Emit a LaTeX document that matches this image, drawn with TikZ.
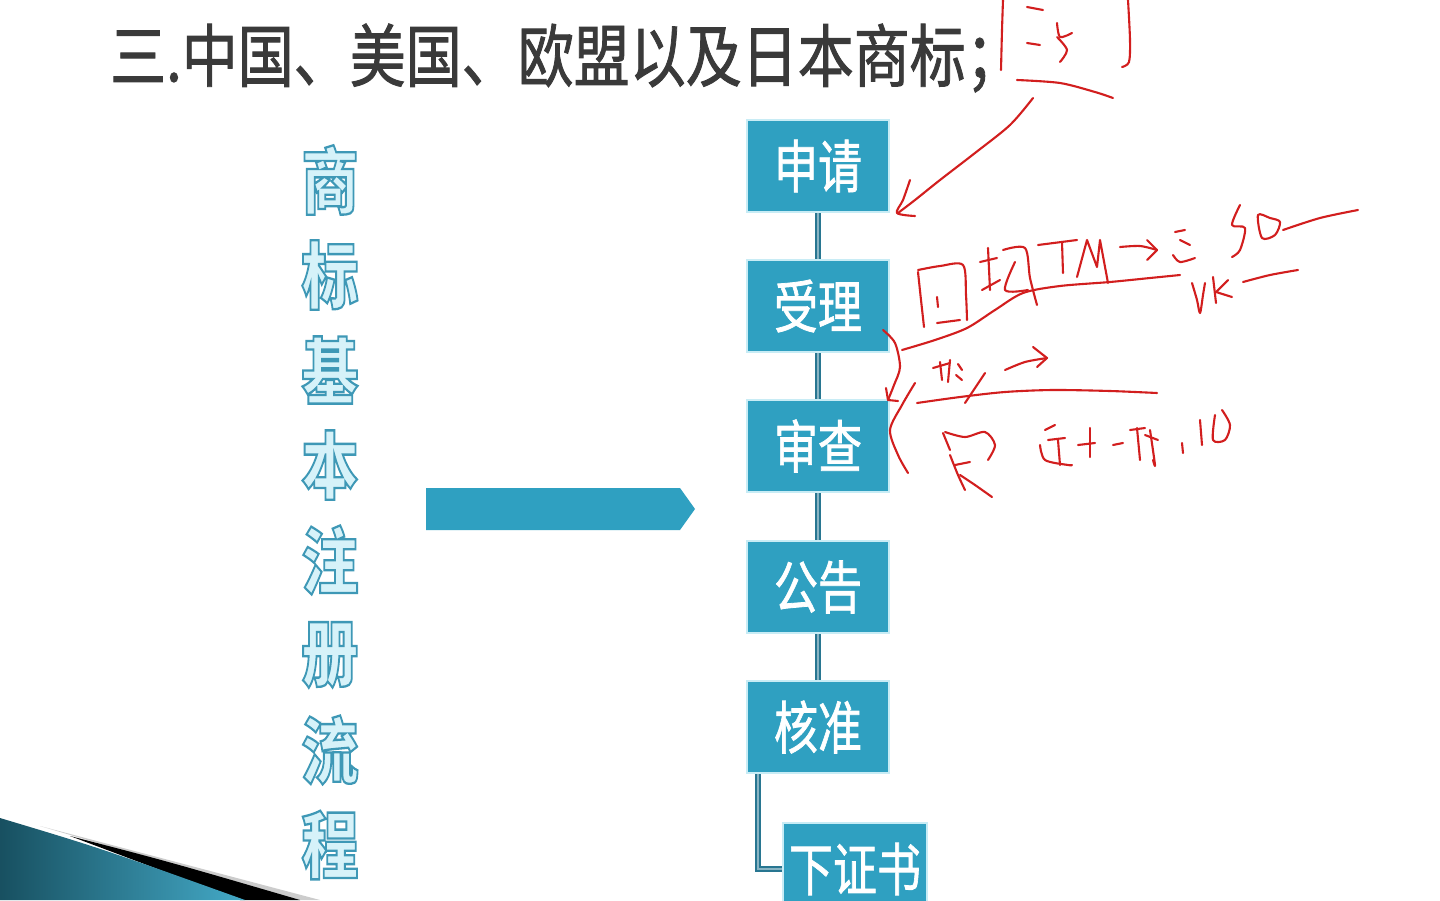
\documentclass[tikz,border=0pt]{standalone}
\usepackage{graphicx}
\usepackage{fontspec}
\setmainfont{Noto Sans CJK SC}
\newfontfamily\cjk{Noto Sans CJK SC}
\newfontfamily\cjkmed[FakeBold=1.4]{Noto Sans CJK SC}
\definecolor{boxfill}{RGB}{47,160,193}
\definecolor{boxedge}{RGB}{200,236,245}
\definecolor{linkc}{RGB}{40,118,145}
\definecolor{titlec}{RGB}{58,58,58}
\definecolor{vfill}{RGB}{214,242,249}
\definecolor{ink}{RGB}{210,30,30}
\newcommand{\tall}[2][1.3]{\scalebox{1}[#1]{#2}}
\newcommand{\outlinechar}[1]{\tall[1.28]{\color{vfill}\special{pdf:code q 2 Tr 1.8 w 0.243 0.596 0.714 RG}#1\special{pdf:code Q}}}
\tikzset{
  stepbox/.style={draw=boxedge, line width=2.2pt, fill=boxfill, minimum width=142pt, minimum height=92pt, inner sep=0pt,
     text=white, font=\cjkmed\fontsize{44}{48}\selectfont},
  link/.style={draw=linkc, line width=1.8pt, double=linkc!55!white, double distance=2pt},
  vchar/.style={font=\cjk\bfseries\fontsize{57}{57}\selectfont, inner sep=0pt},
  inkline/.style={draw=ink, line width=2.1pt, line cap=round, line join=round},
}
\begin{document}
\begin{tikzpicture}[x=1pt,y=-1pt]
\useasboundingbox (0,0) rectangle (1440,900);
\fill[white] (0,0) rectangle (1440,900);
% bottom-left decoration
\fill[black!20!white] (40,826) -- (320,900) -- (290,900) -- cycle;
\fill[black] (70,836) .. controls (170,862) .. (300,900) -- (240,900) -- cycle;
\shade[left color=boxfill!50!black, right color=boxfill!90!white] (0,818) .. controls (100,848) .. (245,900) -- (0,900) -- cycle;
% title
\node[anchor=west, font=\cjkmed\fontsize{56}{60}\selectfont, text=titlec, inner sep=0pt] (title) at (110,58) {\tall[1.22]{三.中国、美国、欧盟以及日本商标；}};
% vertical text
\foreach \c [count=\i] in {商,标,基,本,注,册,流,程}
  \node[vchar] (v\i) at (330,85+95*\i) {\outlinechar{\c}};
% big arrow
\fill[boxfill] (426,488) -- (680,488) -- (695,509) -- (680,530) -- (426,530) -- cycle;
% flow boxes
\node[stepbox] (sq) at (818,166) {\tall{申请}};
\node[stepbox] (sl) at (818,306) {\tall{受理}};
\node[stepbox] (sc) at (818,446) {\tall{审查}};
\node[stepbox] (gg) at (818,587) {\tall{公告}};
\node[stepbox] (hz) at (818,727) {\tall{核准}};
\node[stepbox, minimum width=144pt] (xz) at (855,869) {\tall{下证书}};
\draw[link] (sq) -- (sl);
\draw[link] (sl) -- (sc);
\draw[link] (sc) -- (gg);
\draw[link] (gg) -- (hz);
\coordinate (hzb) at ([xshift=12pt]hz.south west);
\draw[link] (hzb) |- (xz.west);
% handwritten annotations
\begin{scope}[inkline]
\draw plot[smooth] coordinates {(1003,0) (1002,30) (1001,70)};
\draw plot[smooth] coordinates {(1128,0) (1130,40) (1129,62) (1122,67)};
\draw (1027,7) -- (1043,10);
\draw (1027,43) -- (1040,45);
\draw plot[smooth] coordinates {(1057,23) (1060,37) (1072,33)};
\draw plot[smooth] coordinates {(1057,37) (1067,50) (1060,62)};
\draw plot[smooth] coordinates {(1017,80) (1060,83) (1095,92) (1113,98)};
\draw plot[smooth] coordinates {(1033,98) (1010,125) (975,153) (940,180) (915,200) (898,213)};
\draw plot[smooth] coordinates {(910,180) (903,200) (897,213) (915,216)};
% 国
\draw plot[smooth] coordinates {(918,272) (921,300) (924,327)};
\draw plot[smooth] coordinates {(918,270) (940,266) (963,265) (966,295) (967,320)};
\draw (937,323) -- (960,320);
\draw (937,297) -- (938,307);
% second char
\draw (980,262) -- (997,258);
\draw (988,248) -- (990,290);
\draw (982,290) -- (1000,280);
\draw plot[smooth] coordinates {(1003,250) (1025,248) (1030,278) (1037,305)};
\draw plot[smooth] coordinates {(1015,262) (1005,290) (1028,290)};
% TM
\draw (1038,245) -- (1077,240);
\draw (1062,242) -- (1063,273);
\draw (1077,277) -- (1087,240) -- (1097,267) -- (1100,240) -- (1108,283);
\draw plot[smooth] coordinates {(1120,247) (1140,246) (1157,250)};
\draw (1147,240) -- (1157,250) -- (1147,260);
\draw (1175,232) -- (1185,230);
\draw (1180,240) -- (1190,245);
\draw plot[smooth] coordinates {(1173,255) (1180,262) (1195,258)};
\draw plot[smooth] coordinates {(902,350) (935,340) (967,328) (995,310) (1023,293) (1060,286) (1110,282) (1150,278) (1180,275)};
% 500 and UK
\draw plot[smooth] coordinates {(1240,205) (1232,225) (1245,228) (1240,250) (1232,257)};
\draw plot[smooth cycle] coordinates {(1258,215) (1262,238) (1275,235) (1280,222) (1270,218)};
\draw plot[smooth] coordinates {(1283,230) (1320,218) (1358,210)};
\draw plot[smooth] coordinates {(1192,283) (1197,300) (1200,313) (1203,295) (1205,283)};
\draw (1213,277) -- (1216,303);
\draw (1228,280) -- (1216,292) -- (1232,297);
\draw plot[smooth] coordinates {(1243,282) (1270,275) (1298,270)};
% brackets
\draw plot[smooth] coordinates {(883,330) (895,343) (900,367) (894,385) (888,400)};
\draw (886,388) -- (888,400) -- (898,401);
\draw plot[smooth] coordinates {(915,383) (902,405) (890,430) (898,455) (908,473)};
% 形 and arrow
\draw (933,368) -- (950,363);
\draw (940,362) -- (942,380);
\draw (950,360) -- (948,382);
\draw (958,364) -- (962,370);
\draw (956,375) -- (962,380);
\draw (985,373) -- (965,403);
\draw plot[smooth] coordinates {(1005,370) (1025,362) (1047,358)};
\draw (1033,347) -- (1047,358) -- (1037,367);
\draw plot[smooth] coordinates {(917,403) (960,397) (1005,392) (1053,390) (1110,391) (1157,393)};
% 实
\draw (943,433) -- (950,450);
\draw plot[smooth] coordinates {(945,432) (965,437) (985,432) (995,445) (988,460)};
\draw plot[smooth] coordinates {(950,455) (958,475) (965,490)};
\draw (955,465) -- (970,462);
\draw plot[smooth] coordinates {(960,475) (975,485) (992,497)};
% 近十一样 ,15
\draw (1045,430) -- (1055,425);
\draw (1048,440) -- (1065,438);
\draw (1058,440) -- (1060,465);
\draw plot[smooth] coordinates {(1040,445) (1045,460) (1068,465) (1072,465)};
\draw (1078,445) -- (1095,443);
\draw (1090,428) -- (1090,457);
\draw (1113,445) -- (1123,443);
\draw (1130,430) -- (1145,428);
\draw (1137,428) -- (1140,460);
\draw (1145,435) -- (1158,440);
\draw plot[smooth] coordinates {(1150,430) (1155,465) (1153,460)};
\draw (1182,443) -- (1183,453);
\draw (1200,420) -- (1202,445);
\draw plot[smooth] coordinates {(1215,415) (1213,440) (1225,440) (1230,425) (1222,410)};
\end{scope}
\end{tikzpicture}
\end{document}
